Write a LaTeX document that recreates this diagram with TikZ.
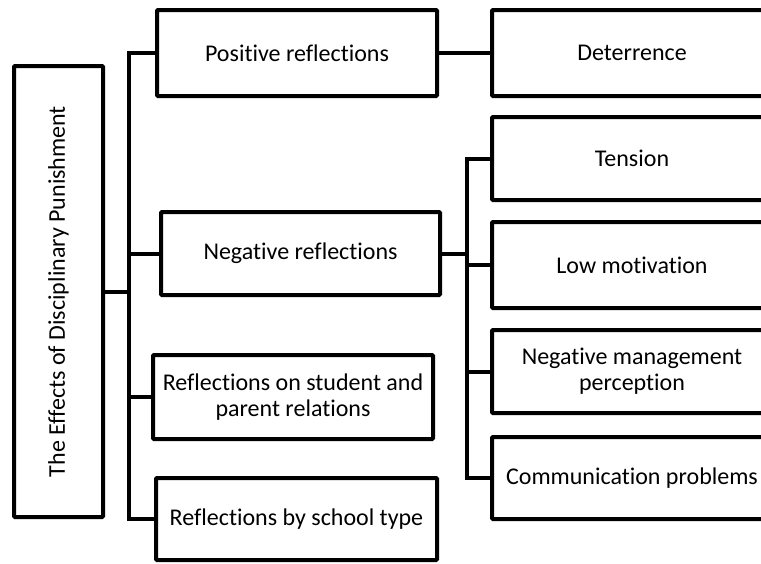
\documentclass[tikz,border=0pt]{standalone}
\usepackage{fontspec}
\setmainfont{Carlito}[Ligatures={NoCommon}]
\begin{document}
\begin{tikzpicture}[x=1pt,y=-1pt,
  box/.style={draw=black,line width=4pt,rounded corners=1pt,fill=white,align=center,inner sep=0pt,
    font=\fontsize{24}{26}\selectfont},
  conn/.style={line width=4pt,line cap=rect}]
\useasboundingbox (0,0) rectangle (761,563);
\clip (0,0) rectangle (761,563);
\node[box,minimum width=89pt,minimum height=451pt] (root) at (58.5,291.5) {};
\node[rotate=90,font=\fontsize{24}{26}\selectfont] (roott) at (root.center) {The Effects of Disciplinary Punishment};
\node[box,minimum width=280pt,minimum height=86pt] (pos) at (297,53) {Positive reflections};
\node[box,minimum width=279pt,minimum height=83pt] (neg) at (300.5,253.5) {Negative reflections};
\node[box,minimum width=280pt,minimum height=84pt] (rel) at (293,397) {Reflections on student and\\parent relations};
\node[box,minimum width=281pt,minimum height=82pt] (sch) at (296.5,519) {Reflections by school type};
\node[box,minimum width=280pt,minimum height=86pt] (det) at (632,53) {Deterrence};
\node[box,minimum width=280pt,minimum height=83pt] (ten) at (632,158.5) {Tension};
\node[box,minimum width=280pt,minimum height=86pt] (low) at (632,265) {Low motivation};
\node[box,minimum width=280pt,minimum height=83pt] (nmp) at (632,371.5) {Negative management\\perception};
\node[box,minimum width=280pt,minimum height=82pt] (com) at (632,478) {Communication problems};
\coordinate (t1) at (129,0);
\coordinate (t2) at (467,0);
\draw[conn] (root.east) -- (t1 |- root.east);
\draw[conn] (t1 |- pos.west) -- (t1 |- sch.west);
\foreach \n in {pos,neg,rel,sch} \draw[conn] (t1 |- \n.west) -- (\n.west);
\draw[conn] (pos.east) -- (det.west);
\draw[conn] (neg.east) -- (t2 |- neg.east);
\draw[conn] (t2 |- ten.west) -- (t2 |- com.west);
\foreach \n in {ten,low,nmp,com} \draw[conn] (t2 |- \n.west) -- (\n.west);
\end{tikzpicture}
\end{document}
